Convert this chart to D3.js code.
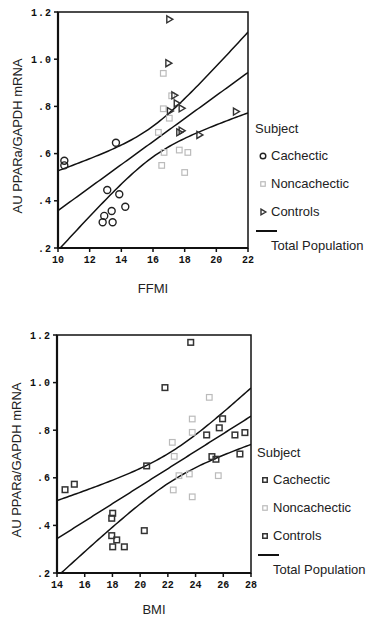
<!DOCTYPE html>
<html>
<head>
<meta charset="utf-8">
<script src="https://cdn.jsdelivr.net/npm/d3@7"></script>
<style>
  body { margin: 0; background: #fff; }
  svg { display: block; }
  .tick-label { font-family: "Liberation Mono", monospace; font-weight: bold; font-size: 10px; fill: #111; }
  .lbl { font-family: "Liberation Sans", Arial, sans-serif; font-size: 13px; fill: #222; }
</style>
</head>
<body>
<svg id="chart" width="367" height="619"></svg>
<script>
// ---- Data ----
const groups = ["Cachectic", "Noncachectic", "Controls"];

// FFMI panel
const ffmiCachectic = [[10.4, 0.57], [10.4, 0.55], [13.66, 0.646], [13.11, 0.446], [13.87, 0.428],
  [12.92, 0.336], [12.82, 0.309], [13.39, 0.357], [13.45, 0.309], [14.25, 0.375]];
const ffmiNoncachectic = [[16.65, 0.94], [17.18, 0.845], [16.65, 0.79], [17.03, 0.75], [16.34, 0.69],
  [17.66, 0.615], [16.7, 0.605], [16.55, 0.55], [18.2, 0.605], [18.0, 0.52]];
const ffmiControls = [[17.03, 1.169], [16.97, 0.983], [17.35, 0.847], [17.5, 0.813], [17.81, 0.792],
  [17.07, 0.78], [17.66, 0.69], [17.81, 0.697], [18.93, 0.679], [21.24, 0.778]];

// BMI panel
const bmiCachectic = [[14.58, 0.55], [15.25, 0.573], [20.47, 0.65], [18.02, 0.451], [17.95, 0.43],
  [17.95, 0.357], [18.31, 0.339], [18.02, 0.31], [18.86, 0.31], [20.3, 0.378]];
const bmiNoncachectic = [[24.99, 0.938], [23.76, 0.847], [23.76, 0.791], [22.32, 0.749], [22.46, 0.69],
  [22.8, 0.609], [23.55, 0.616], [22.39, 0.549], [23.76, 0.52], [25.64, 0.609]];
const bmiControls = [[23.65, 1.169], [21.79, 0.979], [24.8, 0.78], [25.71, 0.81], [25.95, 0.848],
  [25.18, 0.689], [25.47, 0.678], [26.84, 0.78], [27.56, 0.79], [27.2, 0.70]];

const yTicks = [0.2, 0.4, 0.6, 0.8, 1.0, 1.2];
const yTickLabels = [".2", ".4", ".6", ".8", "1.0", "1.2"];
const ffmiTicks = [10, 12, 14, 16, 18, 20, 22];
const bmiTicks = [14, 16, 18, 20, 22, 24, 26, 28];
const tCrit = 2.048; // 95% CI, df = 28

const svg = d3.select("#chart");

// least squares fit with 95% confidence band for the mean
function fit(points) {
  const n = points.length;
  const mx = d3.mean(points, d => d[0]), my = d3.mean(points, d => d[1]);
  const sxx = d3.sum(points, d => (d[0] - mx) ** 2);
  const sxy = d3.sum(points, d => (d[0] - mx) * (d[1] - my));
  const b = sxy / sxx, a = my - b * mx;
  const sse = d3.sum(points, d => (d[1] - a - b * d[0]) ** 2);
  const s = Math.sqrt(sse / (n - 2));
  return {
    mean: x => a + b * x,
    half: x => tCrit * s * Math.sqrt(1 / n + (x - mx) ** 2 / sxx)
  };
}

function panel(cfg) {
  const { x0, x1, y0, y1, xDomain, xTicks, xLabel, xLabelDy, series, markers, legendX, legendY } = cfg;
  const x = d3.scaleLinear().domain(xDomain).range([x0, x1]);
  const y = d3.scaleLinear().domain([0.2, 1.2]).range([y1, y0]);
  const g = svg.append("g");

  const clipId = "clip" + Math.round(y0);
  g.append("clipPath").attr("id", clipId)
    .append("rect").attr("x", x0).attr("y", y0).attr("width", x1 - x0).attr("height", y1 - y0);

  // frame
  g.append("rect").attr("x", x0).attr("y", y0).attr("width", x1 - x0).attr("height", y1 - y0)
    .attr("fill", "none").attr("stroke", "#111").attr("stroke-width", 1.5);
  g.append("line").attr("x1", x0).attr("x2", x0).attr("y1", y0).attr("y2", y1)
    .attr("stroke", "#111").attr("stroke-width", 2.2);
  g.append("line").attr("x1", x0).attr("x2", x1).attr("y1", y1).attr("y2", y1)
    .attr("stroke", "#111").attr("stroke-width", 2.2);

  // y ticks
  yTicks.forEach((t, i) => {
    g.append("line").attr("x1", x0 - 4).attr("x2", x0).attr("y1", y(t)).attr("y2", y(t))
      .attr("stroke", "#111").attr("stroke-width", 1.5);
    g.append("text").attr("class", "tick-label").attr("x", x0 - 6).attr("y", y(t) + 3.5)
      .attr("text-anchor", "end").style("letter-spacing", "1px").text(yTickLabels[i]);
  });
  // x ticks
  xTicks.forEach(t => {
    g.append("line").attr("x1", x(t)).attr("x2", x(t)).attr("y1", y1).attr("y2", y1 + 4)
      .attr("stroke", "#111").attr("stroke-width", 1.5);
    g.append("text").attr("class", "tick-label").attr("x", x(t)).attr("y", y1 + 15)
      .attr("text-anchor", "middle").text(t);
  });

  // axis titles
  g.append("text").attr("class", "lbl")
    .attr("transform", `translate(${x0 - 36},${(y0 + y1) / 2 + 6}) rotate(-90)`)
    .attr("text-anchor", "middle").text("AU PPARa/GAPDH mRNA");
  g.append("text").attr("class", "lbl").attr("x", (x0 + x1) / 2).attr("y", y1 + xLabelDy)
    .attr("text-anchor", "middle").text(xLabel);

  // regression lines
  const all = series.flat();
  const f = fit(all);
  const xs = d3.range(xDomain[0], xDomain[1] + 0.001, (xDomain[1] - xDomain[0]) / 80);
  const lineGen = acc => d3.line().x(v => x(v)).y(v => y(acc(v)))(xs);
  const lg = g.append("g").attr("clip-path", `url(#${clipId})`);
  [v => f.mean(v), v => f.mean(v) + f.half(v), v => f.mean(v) - f.half(v)].forEach(acc => {
    lg.append("path").attr("d", lineGen(acc)).attr("fill", "none")
      .attr("stroke", "#111").attr("stroke-width", 1.5);
  });

  // points
  series.forEach((pts, i) => {
    const m = markers[i];
    pts.forEach(p => m(g, x(p[0]), y(p[1])));
  });

  // legend
  g.append("text").attr("class", "lbl").attr("x", legendX).attr("y", legendY).text("Subject");
  groups.forEach((name, i) => {
    const cy = legendY + 28 * (i + 1) - 1;
    markers[i](g, legendX + 8, cy - 4, 0.8);
    g.append("text").attr("class", "lbl").attr("x", legendX + 16).attr("y", cy).text(name);
  });
  const ly = legendY + 98;
  g.append("line").attr("x1", legendX + 1).attr("x2", legendX + 22).attr("y1", ly).attr("y2", ly)
    .attr("stroke", "#111").attr("stroke-width", 2);
  g.append("text").attr("class", "lbl").attr("x", legendX + 16).attr("y", ly + 19).text("Total Population");
}

const circle = (g, cx, cy, k = 1) => g.append("circle").attr("cx", cx).attr("cy", cy).attr("r", 3.5 * k)
  .attr("fill", "none").attr("stroke", "#222").attr("stroke-width", 1.4);
const lightSq = (g, cx, cy, k = 1) => g.append("rect").attr("x", cx - 2.8 * k).attr("y", cy - 2.8 * k)
  .attr("width", 5.6 * k).attr("height", 5.6 * k).attr("fill", "none").attr("stroke", "#bbb").attr("stroke-width", 1.2);
const darkSq = (g, cx, cy, k = 1) => g.append("rect").attr("x", cx - 2.8 * k).attr("y", cy - 2.8 * k)
  .attr("width", 5.6 * k).attr("height", 5.6 * k).attr("fill", "none").attr("stroke", "#333").attr("stroke-width", 1.5);
const tri = (g, cx, cy, k = 1) => g.append("path")
  .attr("d", `M${cx - 2.5 * k},${cy - 3.5 * k}L${cx + 3.5 * k},${cy}L${cx - 2.5 * k},${cy + 3.5 * k}Z`)
  .attr("fill", "none").attr("stroke", "#333").attr("stroke-width", 1.4);

panel({
  x0: 58, x1: 248, y0: 12, y1: 248, xDomain: [10, 22], xTicks: ffmiTicks, xLabel: "FFMI", xLabelDy: 45,
  series: [ffmiCachectic, ffmiNoncachectic, ffmiControls], markers: [circle, lightSq, tri],
  legendX: 255, legendY: 133
});
panel({
  x0: 57, x1: 251, y0: 335, y1: 573, xDomain: [14, 28], xTicks: bmiTicks, xLabel: "BMI", xLabelDy: 41,
  series: [bmiCachectic, bmiNoncachectic, bmiControls], markers: [darkSq, lightSq, darkSq],
  legendX: 257, legendY: 457
});
</script>
</body>
</html>
